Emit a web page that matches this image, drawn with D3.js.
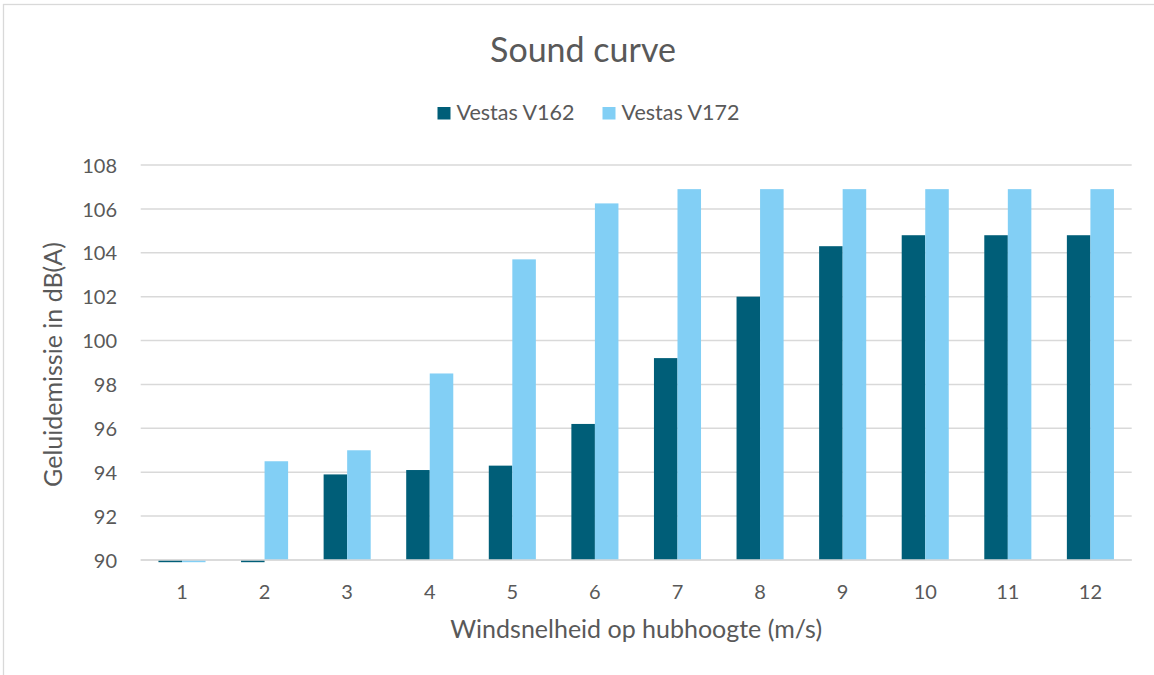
<!DOCTYPE html>
<html><head><meta charset="utf-8">
<script src="https://cdn.jsdelivr.net/npm/d3@7"></script>
<style>body{margin:0;background:#fff}svg{display:block}text{font-family:Lato,"Open Sans",sans-serif;fill:#595959}</style>
</head><body><svg id="c" width="1154" height="675"></svg>
<script>
const categories = ["1","2","3","4","5","6","7","8","9","10","11","12"];
const seriesNames = ["Vestas V162","Vestas V172"];
const v162 = [89.9, 89.9, 93.9, 94.1, 94.3, 96.2, 99.2, 102.0, 104.3, 104.8, 104.8, 104.8];
const v172 = [89.9, 94.5, 95.0, 98.5, 103.7, 106.25, 106.9, 106.9, 106.9, 106.9, 106.9, 106.9];
const yTicks = [90, 92, 94, 96, 98, 100, 102, 104, 106, 108];
const colors = ["#005E78", "#82CFF5"];

const svg = d3.select("#c");
// chart border
svg.append("rect").attr("x",3.5).attr("y",4.5).attr("width",1160).attr("height",680)
  .attr("fill","none").attr("stroke","#d9d9d9").attr("stroke-width",1.3);

const L = 140.7, R = 1131.7, T = 165, B = 560;
const x = d3.scaleBand().domain(categories).range([L, R]).paddingInner(0.43).paddingOuter(0.215);
const y = d3.scaleLinear().domain([90, 108]).range([B, T]);
const xs = d3.scaleBand().domain(seriesNames).range([0, x.bandwidth()]);

// gridlines
svg.append("g").selectAll("line").data(yTicks).join("line")
  .attr("x1", L).attr("x2", R).attr("y1", d => y(d)).attr("y2", d => y(d))
  .attr("stroke", "#d9d9d9").attr("stroke-width", 1.5);

// y labels
const yAxis = d3.axisLeft(y).tickValues(yTicks).tickSize(0).tickPadding(0);
const gy = svg.append("g").attr("transform", `translate(117,0)`).call(yAxis);
gy.select(".domain").remove();
gy.selectAll("text").attr("font-size", 20).attr("fill", "#595959").attr("dy","0.36em")
  .style("font-family","Lato,sans-serif");

// bars
const data = [v162, v172];
data.forEach((vals, si) => {
  svg.append("g").selectAll("rect").data(vals).join("rect")
    .attr("x", (d, i) => x(categories[i]) + xs(seriesNames[si]))
    .attr("width", xs.bandwidth())
    .attr("y", d => Math.min(y(d), y(90)))
    .attr("height", d => Math.max(Math.abs(y(90) - y(d)), 0))
    .attr("fill", colors[si]);
});

// x axis
const xAxis = d3.axisBottom(x).tickSize(0).tickPadding(0);
const gx = svg.append("g").attr("transform", `translate(0,${B})`).call(xAxis);
gx.select(".domain").remove();
gx.selectAll("text").attr("font-size", 20).attr("fill", "#595959").attr("y", 39).attr("dy", 0)
  .style("font-family","Lato,sans-serif");
svg.append("line").attr("x1", L).attr("x2", R).attr("y1", B).attr("y2", B)
  .attr("stroke", "#d9d9d9").attr("stroke-width", 1.5);

// titles
svg.append("text").attr("x", 583).attr("y", 62).attr("text-anchor", "middle")
  .attr("font-size", 34).text("Sound curve");
svg.append("text").attr("x", (L + R) / 2).attr("y", 638).attr("text-anchor", "middle")
  .attr("font-size", 25).text("Windsnelheid op hubhoogte (m/s)");
svg.append("text").attr("transform", `translate(62,${(T + B) / 2 + 2}) rotate(-90)`)
  .attr("text-anchor", "middle").attr("font-size", 25).text("Geluidemissie in dB(A)");

// legend
const legX = [437.5, 602.5];
seriesNames.forEach((n, i) => {
  svg.append("rect").attr("x", legX[i]).attr("y", 107).attr("width", 13).attr("height", 12.5).attr("fill", colors[i]);
  svg.append("text").attr("x", legX[i] + 19).attr("y", 119.5).attr("font-size", 21.5).text(n);
});
</script></body></html>
